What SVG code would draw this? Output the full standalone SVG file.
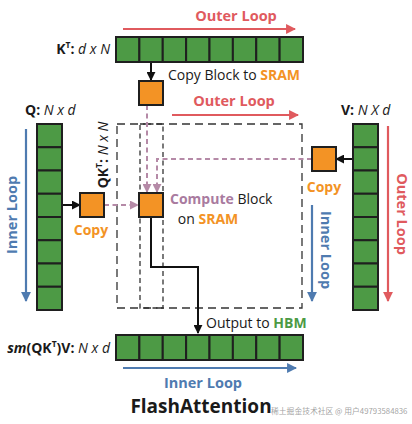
<svg xmlns="http://www.w3.org/2000/svg" width="412" height="424" viewBox="0 0 412 424">
<defs>
<style>
text{font-family:"Open Sans","Liberation Sans",sans-serif;}
.cell{fill:#4d9a45;stroke:#1f1f1f;stroke-width:2;}
.blk{fill:#f39325;stroke:#1f1f1f;stroke-width:2;}
.lbl{font-size:14px;fill:#1a1a1a;}
.b{font-weight:bold;}
.i{font-style:italic;}
.red{fill:#e05a5e;}
.blue{fill:#4f7bb0;}
.org{fill:#f39325;}
.grn{fill:#4d9a45;}
.pnk{fill:#a97b9f;}
.loop{font-size:14.5px;font-weight:bold;}
.dash{fill:none;stroke:#333;stroke-width:1.3;stroke-dasharray:8 5;}
.dash2{fill:none;stroke:#333;stroke-width:1.3;stroke-dasharray:5 3.5;}
.pd{fill:none;stroke:#b58aa7;stroke-width:2;stroke-dasharray:5 3.5;}
.solid{fill:none;stroke:#111;stroke-width:2;}
</style>
<marker id="ak" viewBox="0 0 10 10" refX="9" refY="5" markerWidth="4.5" markerHeight="4.5" orient="auto"><path d="M0,0L10,5L0,10z" fill="#111"/></marker>
<marker id="ap" viewBox="0 0 10 10" refX="9" refY="5" markerWidth="4.5" markerHeight="4.5" orient="auto"><path d="M0,0L10,5L0,10z" fill="#b58aa7"/></marker>
<marker id="ar" viewBox="0 0 10 10" refX="9" refY="5" markerWidth="4.5" markerHeight="4.5" orient="auto"><path d="M0,0L10,5L0,10z" fill="#e05a5e"/></marker>
<marker id="ab" viewBox="0 0 10 10" refX="9" refY="5" markerWidth="4.5" markerHeight="4.5" orient="auto"><path d="M0,0L10,5L0,10z" fill="#4f7bb0"/></marker>
</defs>
<rect width="412" height="424" fill="#fff"/>

<g id="regions">
<rect class="dash" x="117" y="124" width="185" height="184"/>
<rect class="dash2" x="140" y="124" width="23" height="184"/>
</g>

<g id="connectors">
<line class="solid" x1="151" y1="62" x2="151" y2="80" marker-end="url(#ak)"/>
<line class="solid" x1="62" y1="205" x2="80" y2="205" marker-end="url(#ak)"/>
<line class="solid" x1="353" y1="159" x2="336" y2="159" marker-end="url(#ak)"/>
<polyline class="solid" points="151,217 151,267 198,267 198,333" marker-end="url(#ak)"/>
<line class="pd" x1="147" y1="105" x2="147" y2="192" marker-end="url(#ap)"/>
<polyline class="pd" points="312,159 157,159 157,192" marker-end="url(#ap)"/>
<line class="pd" x1="104" y1="205" x2="138" y2="205" marker-end="url(#ap)"/>
<line x1="123" y1="29" x2="295" y2="29" stroke="#e05a5e" stroke-width="2.2" marker-end="url(#ar)"/>
<line x1="172" y1="115" x2="298" y2="115" stroke="#e05a5e" stroke-width="2.2" marker-end="url(#ar)"/>
<line x1="388" y1="126" x2="388" y2="301" stroke="#e05a5e" stroke-width="2.2" marker-end="url(#ar)"/>
<line x1="26" y1="129" x2="26" y2="301" stroke="#4f7bb0" stroke-width="2.2" marker-end="url(#ab)"/>
<line x1="312" y1="205" x2="312" y2="301" stroke="#4f7bb0" stroke-width="2.2" marker-end="url(#ab)"/>
<line x1="123" y1="368" x2="296" y2="368" stroke="#4f7bb0" stroke-width="2.2" marker-end="url(#ab)"/>
</g>

<g id="kt">
<rect class="cell" x="116" y="37" width="23.375" height="25"/>
<rect class="cell" x="139.375" y="37" width="23.375" height="25"/>
<rect class="cell" x="162.75" y="37" width="23.375" height="25"/>
<rect class="cell" x="186.125" y="37" width="23.375" height="25"/>
<rect class="cell" x="209.5" y="37" width="23.375" height="25"/>
<rect class="cell" x="232.875" y="37" width="23.375" height="25"/>
<rect class="cell" x="256.25" y="37" width="23.375" height="25"/>
<rect class="cell" x="279.625" y="37" width="23.375" height="25"/>
<text class="lbl" x="110" y="54" text-anchor="end"><tspan class="b">K</tspan><tspan class="b" font-size="8.5" dy="-6">T</tspan><tspan class="b" dy="6">:</tspan><tspan class="i"> d x N</tspan></text>
</g>

<g id="out">
<rect class="cell" x="116" y="335" width="23.375" height="25"/>
<rect class="cell" x="139.375" y="335" width="23.375" height="25"/>
<rect class="cell" x="162.75" y="335" width="23.375" height="25"/>
<rect class="cell" x="186.125" y="335" width="23.375" height="25"/>
<rect class="cell" x="209.5" y="335" width="23.375" height="25"/>
<rect class="cell" x="232.875" y="335" width="23.375" height="25"/>
<rect class="cell" x="256.25" y="335" width="23.375" height="25"/>
<rect class="cell" x="279.625" y="335" width="23.375" height="25"/>
<text class="lbl" x="110" y="353" text-anchor="end"><tspan class="b i">sm</tspan><tspan class="b">(QK</tspan><tspan class="b" font-size="8.5" dy="-6">T</tspan><tspan class="b" dy="6">)V:</tspan><tspan class="i"> N x d</tspan></text>
</g>

<g id="q">
<rect class="cell" x="37" y="124" width="25" height="23.25"/>
<rect class="cell" x="37" y="147.25" width="25" height="23.25"/>
<rect class="cell" x="37" y="170.5" width="25" height="23.25"/>
<rect class="cell" x="37" y="193.75" width="25" height="23.25"/>
<rect class="cell" x="37" y="217" width="25" height="23.25"/>
<rect class="cell" x="37" y="240.25" width="25" height="23.25"/>
<rect class="cell" x="37" y="263.5" width="25" height="23.25"/>
<rect class="cell" x="37" y="286.75" width="25" height="23.25"/>
<text class="lbl" x="25" y="115"><tspan class="b">Q:</tspan><tspan class="i"> N x d</tspan></text>
</g>

<g id="v">
<rect class="cell" x="353" y="124" width="25" height="23.25"/>
<rect class="cell" x="353" y="147.25" width="25" height="23.25"/>
<rect class="cell" x="353" y="170.5" width="25" height="23.25"/>
<rect class="cell" x="353" y="193.75" width="25" height="23.25"/>
<rect class="cell" x="353" y="217" width="25" height="23.25"/>
<rect class="cell" x="353" y="240.25" width="25" height="23.25"/>
<rect class="cell" x="353" y="263.5" width="25" height="23.25"/>
<rect class="cell" x="353" y="286.75" width="25" height="23.25"/>
<text class="lbl" x="341" y="115"><tspan class="b">V:</tspan><tspan class="i"> N X d</tspan></text>
</g>

<g id="k-block">
<rect class="blk" x="139" y="81" width="24" height="24"/>
<text class="lbl" x="168" y="80" font-size="14.5">Copy Block to <tspan class="b org">SRAM</tspan></text>
</g>

<g id="q-block">
<rect class="blk" x="80" y="193" width="24" height="24"/>
<text class="lbl b org" x="91" y="235" text-anchor="middle" font-size="14.5">Copy</text>
</g>

<g id="v-block">
<rect class="blk" x="312" y="147" width="24" height="24"/>
<text class="lbl b org" x="324" y="192" text-anchor="middle" font-size="14.5">Copy</text>
</g>

<g id="compute">
<rect class="blk" x="139" y="193" width="24" height="24"/>
<text class="lbl" x="170" y="204" font-size="14.5"><tspan class="b pnk">Compute</tspan> Block</text>
<text class="lbl" x="208" y="224" text-anchor="middle" font-size="14.5">on <tspan class="b org">SRAM</tspan></text>
</g>

<g id="labels">
<text class="loop red" x="236" y="21" text-anchor="middle">Outer Loop</text>
<text class="loop red" x="234" y="106" text-anchor="middle">Outer Loop</text>
<text class="loop blue" x="203" y="388" text-anchor="middle">Inner Loop</text>
<text class="loop blue" transform="translate(17,215) rotate(-90)" text-anchor="middle">Inner Loop</text>
<text class="loop blue" transform="translate(321,250) rotate(90)" text-anchor="middle">Inner Loop</text>
<text class="loop red" transform="translate(397,214) rotate(90)" text-anchor="middle">Outer Loop</text>
<text class="lbl" transform="translate(108,155) rotate(-90)" text-anchor="middle"><tspan class="b">QK</tspan><tspan class="b" font-size="8.5" dy="-6">T</tspan><tspan class="b" dy="6">:</tspan><tspan class="i"> N x N</tspan></text>
<text class="lbl" x="206" y="328" font-size="14.5">Output to <tspan class="b grn">HBM</tspan></text>
<text x="201" y="413" text-anchor="middle" font-size="19" font-weight="bold" fill="#1a1a1a">FlashAttention</text>
<text x="271" y="414" font-size="7.8" fill="#8a8a8a" fill-opacity="0.8" style="font-family:'Noto Sans CJK SC',sans-serif">稀土掘金技术社区 @ 用户49793584836</text>
</g>
</svg>
